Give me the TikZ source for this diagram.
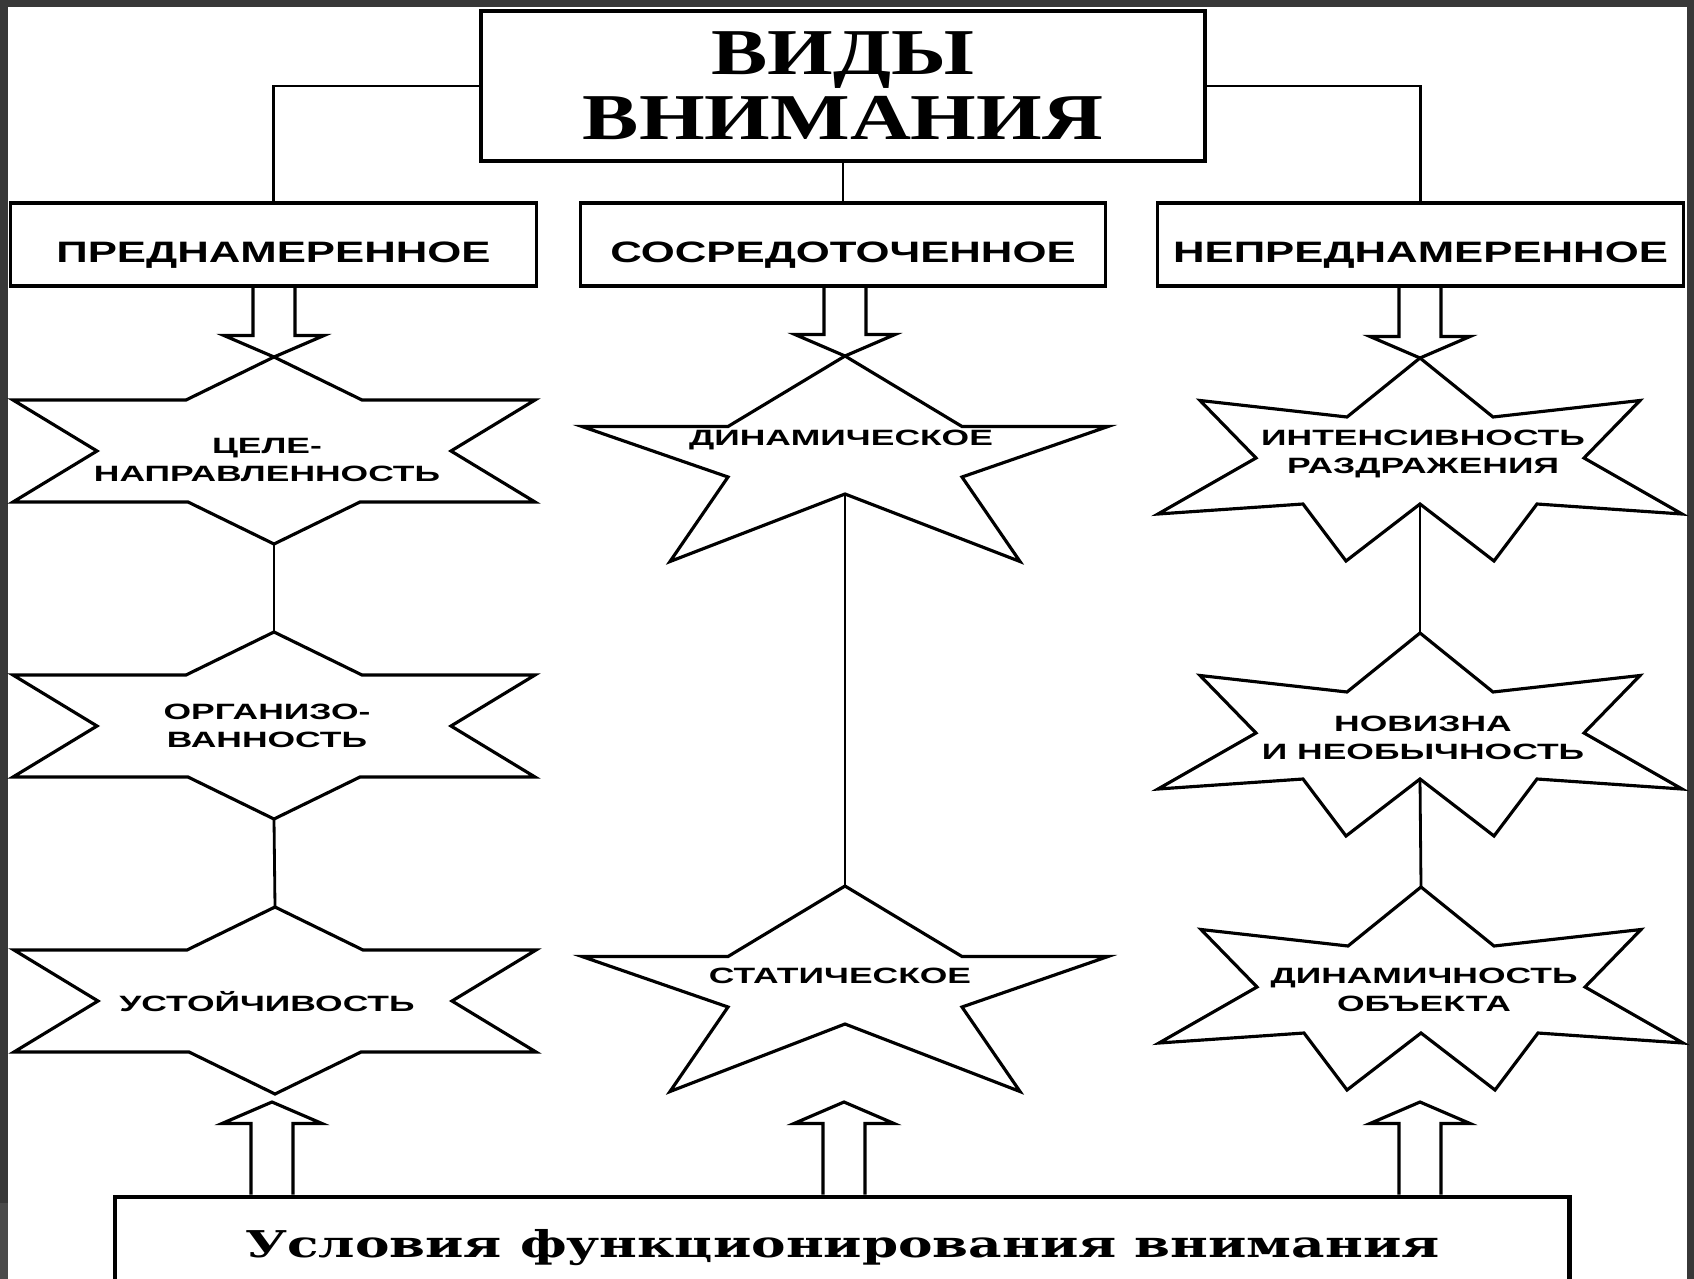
\documentclass[tikz,border=0pt]{standalone}
\usepackage{fontspec}
\setmainfont{Liberation Serif}
\setsansfont{Liberation Sans}
\newfontfamily\slabfont{DejaVu Serif}
\usepackage{graphicx}
\usepackage{tikz}
\usetikzlibrary{calc}
\definecolor{framegray}{RGB}{56,56,56}
\definecolor{framegraylow}{RGB}{74,74,74}
\newcommand{\shafthalf}{21}
\newcommand{\headhalf}{50}
\newcommand{\headlen}{21.5}
\newcommand{\wide}[2][1.6]{\scalebox{#1}[1]{#2}}
\newcommand{\hollowarrow}[3]{%
    \draw[outline] ($(#1 -| #2)+(-\shafthalf,0)$)
        -- ($(#2)+(-\shafthalf,#3*\headlen)$)
        -- ($(#2)+(-\headhalf,#3*\headlen)$)
        -- (#2)
        -- ($(#2)+(\headhalf,#3*\headlen)$)
        -- ($(#2)+(\shafthalf,#3*\headlen)$)
        -- ($(#1 -| #2)+(\shafthalf,0)$);}
\tikzset{
    outline/.style={draw, line width=0.9pt, line join=miter},
    link/.style={line width=0.8pt},
    title/.style={draw, line width=1.2pt, minimum width=7.24cm, minimum height=1.5cm, align=center,
        font=\fontsize{18.6}{18.4}\selectfont\bfseries},
    kind/.style={draw, line width=0.9pt, minimum width=5.25cm, minimum height=0.83cm,
        text height=10.5pt, text depth=0pt,
        font=\fontsize{8.4}{10}\selectfont\sffamily\bfseries},
    cond/.style={draw, line width=1.2pt, minimum width=14.535cm, minimum height=1.026cm,
        font=\slabfont\bfseries\fontsize{10.5}{12}\selectfont},
    startext/.style={align=center, inner sep=0pt, font=\fontsize{6.3}{8.1}\selectfont\sffamily\bfseries},
    hexstar/.style={insert path={(0,-94) coordinate (#1-top) -- (88,-51) -- (261,-51) -- (177,0)
        -- (261,51) -- (86,51) -- (0,93) coordinate (#1-bot) -- (-86,51) -- (-261,51) -- (-177,0)
        -- (-261,-51) -- (-88,-51) -- cycle}},
    pentstar/.style={insert path={(0,-100) coordinate (#1-top) -- (117,-29.5) -- (263,-29.5)
        -- (117,21) -- (175,105.5) -- (0,38) coordinate (#1-bot) -- (-175,105.5) -- (-117,21)
        -- (-263,-29.5) -- (-117,-29.5) -- cycle}},
    octstar/.style={insert path={(0,-100) coordinate (#1-top) -- (73,-41) -- (220,-57.5) -- (164,0)
        -- (262,56) -- (117,46) -- (74,103) -- (0,46) coordinate (#1-bot) -- (-74,103) -- (-117,46)
        -- (-262,56) -- (-164,0) -- (-220,-57.5) -- (-73,-41) -- cycle}}
}
\begin{document}
\begin{tikzpicture}[x=0.01cm, y=-0.01cm]
    \useasboundingbox (0,0) rectangle (1694,1279);
    \fill[framegray] (0,0) rectangle (1694,1279);
    \fill[framegraylow] (0,1203) rectangle (8,1279);
    \fill[white] (8,7) rectangle (1687,1279);

    \node[title] (vidy) at (843,86) {\wide[1.29]{ВИДЫ}\\\wide[1.29]{ВНИМАНИЯ}};
    \node[kind] (pred) at (273.5,244.5) {\wide[1.48]{ПРЕДНАМЕРЕННОЕ}};
    \node[kind] (sosr) at (843,244.5) {\wide[1.48]{СОСРЕДОТОЧЕННОЕ}};
    \node[kind] (nepred) at (1420.5,244.5) {\wide[1.48]{НЕПРЕДНАМЕРЕННОЕ}};

    \draw[link] (vidy.west) -| (pred.north);
    \draw[link] (vidy.south) -- (sosr.north);
    \draw[link] (vidy.east) -| (nepred.north);

    \draw[outline, shift={(274,451)}, hexstar=tsel];
    \draw[outline, shift={(274,726)}, hexstar=org];
    \draw[outline, shift={(275,1001)}, hexstar=ust];
    \draw[outline, shift={(845,456)}, pentstar=din];
    \draw[outline, shift={(845,986)}, pentstar=stat];
    \draw[outline, shift={(1420,458)}, octstar=int];
    \draw[outline, shift={(1420,733)}, octstar=nov];
    \draw[outline, shift={(1421,987)}, octstar=dob];

    \node[startext] (tsel) at (267,460) {\wide{ЦЕЛЕ-}\\\wide{НАПРАВЛЕННОСТЬ}};
    \node[startext] (org) at (267,726) {\wide{ОРГАНИЗО-}\\\wide{ВАННОСТЬ}};
    \node[startext] (ust) at (267,1002) {\wide{УСТОЙЧИВОСТЬ}};
    \node[startext] (din) at (841,440) {\wide{ДИНАМИЧЕСКОЕ}};
    \node[startext] (stat) at (840,976) {\wide{СТАТИЧЕСКОЕ}};
    \node[startext] (int) at (1423,454) {\wide{ИНТЕНСИВНОСТЬ}\\\wide{РАЗДРАЖЕНИЯ}};
    \node[startext] (nov) at (1423,738) {\wide{НОВИЗНА}\\\wide{И НЕОБЫЧНОСТЬ}};
    \node[startext] (dob) at (1424,990) {\wide{ДИНАМИЧНОСТЬ}\\\wide{ОБЪЕКТА}};

    \draw[link] (tsel-bot) -- (org-top);
    \draw[link] (org-bot) -- (ust-top);
    \draw[link] (din-bot) -- (stat-top);
    \draw[link] (int-bot) -- (nov-top);
    \draw[link] (nov-bot) -- (dob-top);

    \hollowarrow{pred.south}{tsel-top}{-1}
    \hollowarrow{sosr.south}{din-top}{-1}
    \hollowarrow{nepred.south}{int-top}{-1}

    \node[cond] (usl) at (842.3,1248) {\wide[1.4]{Условия функционирования внимания}};

    \coordinate (up1) at (272,1102);
    \coordinate (up2) at (844,1102);
    \coordinate (up3) at (1420,1102);
    \hollowarrow{usl.north}{up1}{1}
    \hollowarrow{usl.north}{up2}{1}
    \hollowarrow{usl.north}{up3}{1}
\end{tikzpicture}
\end{document}
